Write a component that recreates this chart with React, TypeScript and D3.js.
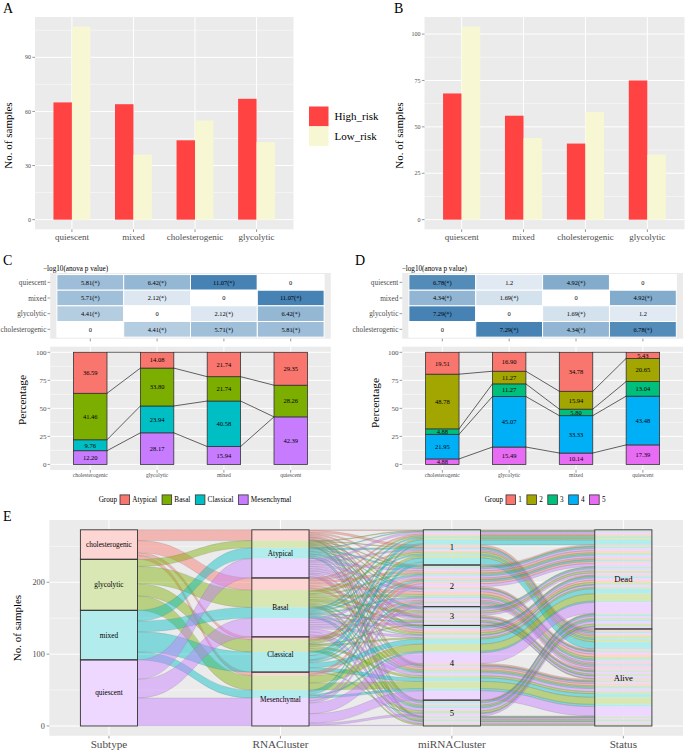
import React, { useMemo } from 'react';
import * as d3 from 'd3';

// ---------------- DATA ----------------
// Panels A / B
const riskSubtypes = ['quiescent', 'mixed', 'cholesterogenic', 'glycolytic'];
const riskGroups = ['High_risk', 'Low_risk'];
const riskColors = ['#FF4242', '#F7F7D3'];
const aHigh = [65, 64, 44, 67];
const aLow = [107, 36, 55, 43];
const aTicks = [0, 30, 60, 90];
const bHigh = [68, 56, 41, 75];
const bLow = [104, 44, 58, 35];
const bTicks = [0, 25, 50, 75, 100];

// Panels C / D
const heatCols = ['cholesterogenic', 'glycolytic', 'mixed', 'quiescent'];
const heatRows = ['quiescent', 'mixed', 'glycolytic', 'cholesterogenic'];
const cHeat = [
  [5.81, 6.42, 11.07, 0],
  [5.71, 2.12, 0, 11.07],
  [4.41, 0, 2.12, 6.42],
  [0, 4.41, 5.71, 5.81],
];
const dHeat = [
  [6.78, 1.2, 4.92, 0],
  [4.34, 1.69, 0, 4.92],
  [7.29, 0, 1.69, 1.2],
  [0, 7.29, 4.34, 6.78],
];
const rnaGroups = ['Atypical', 'Basal', 'Classical', 'Mesenchymal'];
const rnaColors = ['#F8766D', '#7CAE00', '#00BFC4', '#C77CFF'];
const cPct = [
  [36.59, 41.46, 9.76, 12.2],
  [14.08, 33.8, 23.94, 28.17],
  [21.74, 21.74, 40.58, 15.94],
  [29.35, 28.26, 0, 42.39],
];
const mirGroups = ['1', '2', '3', '4', '5'];
const mirColors = ['#F8766D', '#A3A500', '#00BF7D', '#00B0F6', '#E76BF3'];
const dPct = [
  [19.51, 48.78, 4.88, 21.95, 4.88],
  [16.9, 11.27, 11.27, 45.07, 15.49],
  [34.78, 15.94, 5.8, 33.33, 10.14],
  [5.43, 20.65, 13.04, 43.48, 17.39],
];
const pctTicks = [0, 25, 50, 75, 100];

// Panel E
const alluvialAxes = ['Subtype', 'RNACluster', 'miRNACluster', 'Status'];
const subtypeOrder = ['cholesterogenic', 'glycolytic', 'mixed', 'quiescent'];
const subtypeColors = ['#F8766D', '#7CAE00', '#00BFC4', '#C77CFF'];
const subtypeRnaCounts = [
  [15, 17, 4, 5],
  [10, 24, 17, 20],
  [15, 15, 28, 11],
  [27, 26, 0, 39],
];
const subtypeMirCounts = [
  [8, 20, 2, 9, 2],
  [12, 8, 8, 32, 11],
  [24, 11, 4, 23, 7],
  [5, 19, 12, 40, 16],
];
const statusOrder = ['Dead', 'Alive'];
const mirDead = [21, 30, 12, 53, 22];
const mirAlive = [28, 28, 14, 51, 14];
const eTicks = [0, 100, 200];

// ---------------- STYLE ----------------
const FONT = "'Liberation Serif', 'Times New Roman', 'DejaVu Serif', serif";
const BG = '#EBEBEB';
const TXT = '#4D4D4D';
const TICK = '#333333';

let _ctx: CanvasRenderingContext2D | null = null;
function tw(t: string, size: number): number {
  if (!_ctx) _ctx = document.createElement('canvas').getContext('2d');
  if (!_ctx) return t.length * size * 0.5;
  _ctx.font = `${size}px 'Liberation Serif', serif`;
  return _ctx.measureText(t).width;
}

function minorOf(ticks: number[], maxV: number) {
  const st = ticks[1] - ticks[0];
  return ticks.map((t) => t + st / 2).filter((v) => v <= maxV);
}

// ---------------- PANELS A/B ----------------
function RiskPanel(p: {
  left: number; right: number; top: number; bottom: number;
  high: number[]; low: number[]; ticks: number[];
  letter: string; letterX: number; titleX: number; titleY: number;
}) {
  const x = d3.scalePoint<string>().domain(riskSubtypes).range([p.left, p.right]).padding(0.6);
  const max = d3.max([...p.high, ...p.low]) as number;
  const y = d3.scaleLinear().domain([-0.05 * max, 1.05 * max]).range([p.bottom, p.top]);
  const bw = x.step() * 0.3;
  const minor = minorOf(p.ticks, y.domain()[1]);
  return (
    <g>
      <text x={p.letterX} y={13} fontSize={14}>{p.letter}</text>
      <rect x={p.left} y={p.top} width={p.right - p.left} height={p.bottom - p.top} fill={BG} />
      {minor.map((v) => (
        <line key={'m' + v} x1={p.left} x2={p.right} y1={y(v)} y2={y(v)} stroke="#fff" strokeWidth={0.5} />
      ))}
      {p.ticks.map((v) => (
        <line key={'t' + v} x1={p.left} x2={p.right} y1={y(v)} y2={y(v)} stroke="#fff" strokeWidth={1} />
      ))}
      {riskSubtypes.map((c) => (
        <line key={'v' + c} x1={x(c)} x2={x(c)} y1={p.top} y2={p.bottom} stroke="#fff" strokeWidth={1} />
      ))}
      {riskSubtypes.map((c, i) => (
        <g key={'b' + c}>
          <rect x={(x(c) as number) - bw} y={y(p.high[i])} width={bw} height={y(0) - y(p.high[i])} fill={riskColors[0]} />
          <rect x={x(c) as number} y={y(p.low[i])} width={bw} height={y(0) - y(p.low[i])} fill={riskColors[1]} />
        </g>
      ))}
      {p.ticks.map((v) => (
        <g key={'yl' + v}>
          <line x1={p.left - 2.7} x2={p.left} y1={y(v)} y2={y(v)} stroke={TICK} strokeWidth={0.5} />
          <text x={p.left - 4} y={y(v)} dy="0.35em" textAnchor="end" fontSize={6} fill={TXT}>{v}</text>
        </g>
      ))}
      {riskSubtypes.map((c) => (
        <g key={'xl' + c}>
          <line x1={x(c)} x2={x(c)} y1={p.bottom} y2={p.bottom + 2.7} stroke={TICK} strokeWidth={0.5} />
          <text x={x(c)} y={239.5} textAnchor="middle" fontSize={9} fill={TXT}>{c}</text>
        </g>
      ))}
      <text transform={`translate(${p.titleX},${p.titleY}) rotate(-90)`} textAnchor="middle" dy="0.35em" fontSize={11}>No. of samples</text>
    </g>
  );
}

function RiskLegend() {
  return (
    <g>
      {riskGroups.map((g, i) => (
        <g key={g}>
          <rect x={309} y={106.5 + i * 19.8} width={19.5} height={19.8} fill={riskColors[i]} />
          <text x={334.5} y={116.4 + i * 19.8} dy="0.35em" fontSize={11}>{g}</text>
        </g>
      ))}
    </g>
  );
}

// ---------------- PANELS C/D heatmaps ----------------
function HeatPanel(p: { left: number; right: number; top: number; bottom: number; values: number[][]; titleX: number; letter: string; letterX: number }) {
  const x = d3.scalePoint<string>().domain(heatCols).range([p.left, p.right]).padding(0.6);
  const y = d3.scalePoint<string>().domain(heatRows).range([p.top, p.bottom]).padding(0.6);
  const max = d3.max(p.values.flat()) as number;
  const color = d3.scaleLinear<string>().domain([0, max]).range(['#FFFFFF', '#4682B4']);
  const sx = x.step();
  const sy = y.step();
  const sig = -Math.log10(0.05);
  return (
    <g>
      <text x={p.letterX} y={265} fontSize={14}>{p.letter}</text>
      <text x={p.titleX} y={270.5} fontSize={7.2}>−log10(anova p value)</text>
      <rect x={p.left} y={p.top} width={p.right - p.left} height={p.bottom - p.top} fill={BG} />
      {heatRows.map((r, i) =>
        heatCols.map((c, j) => {
          const v = p.values[i][j];
          return (
            <g key={r + c}>
              <rect x={(x(c) as number) - sx / 2} y={(y(r) as number) - sy / 2} width={sx} height={sy} fill={color(v)} stroke="#fff" strokeWidth={1} />
              <text x={x(c)} y={y(r)} dy="0.35em" textAnchor="middle" fontSize={6.4}>{v === 0 ? '0' : String(v) + (v > sig ? '(*)' : '')}</text>
            </g>
          );
        })
      )}
      {heatRows.map((r) => (
        <g key={'yl' + r}>
          <line x1={p.left - 2.7} x2={p.left} y1={y(r)} y2={y(r)} stroke={TICK} strokeWidth={0.5} />
          <text x={p.left - 3.8} y={y(r)} dy="0.35em" textAnchor="end" fontSize={7.3} fill={TXT}>{r}</text>
        </g>
      ))}
      {heatCols.map((c) => (
        <line key={'xt' + c} x1={x(c)} x2={x(c)} y1={p.bottom} y2={p.bottom + 2.7} stroke={TICK} strokeWidth={0.5} />
      ))}
    </g>
  );
}

// ---------------- PANELS C/D stacked bars ----------------
function StackPanel(p: { left: number; right: number; top: number; bottom: number; groups: string[]; colors: string[]; pct: number[][]; titleX: number; titleY: number }) {
  const x = d3.scalePoint<string>().domain(heatCols).range([p.left, p.right]).padding(0.6);
  const y = d3.scaleLinear().domain([-5, 105]).range([p.bottom, p.top]);
  const bw = x.step() * 0.5;
  const rows = heatCols.map((c, i) => {
    const o: any = { cat: c };
    p.groups.forEach((g, j) => (o[g] = p.pct[i][j]));
    return o;
  });
  const keys = p.groups.slice().reverse();
  const series = d3.stack<any>().keys(keys)(rows);
  const minor = minorOf(pctTicks, 105);
  return (
    <g>
      <rect x={p.left} y={p.top} width={p.right - p.left} height={p.bottom - p.top} fill={BG} />
      {minor.map((v) => (
        <line key={'m' + v} x1={p.left} x2={p.right} y1={y(v)} y2={y(v)} stroke="#fff" strokeWidth={0.5} />
      ))}
      {pctTicks.map((v) => (
        <line key={'t' + v} x1={p.left} x2={p.right} y1={y(v)} y2={y(v)} stroke="#fff" strokeWidth={1} />
      ))}
      {heatCols.map((c) => (
        <line key={'v' + c} x1={x(c)} x2={x(c)} y1={p.top} y2={p.bottom} stroke="#fff" strokeWidth={1} />
      ))}
      {series.map((s) => {
        const gi = p.groups.indexOf(s.key);
        return s.map((d, i) => {
          const c = heatCols[i];
          const v = d[1] - d[0];
          if (v <= 0) return null;
          return (
            <g key={s.key + c}>
              <rect x={(x(c) as number) - bw / 2} y={y(d[1])} width={bw} height={y(d[0]) - y(d[1])} fill={p.colors[gi]} stroke={TICK} strokeWidth={0.8} />
              <text x={x(c)} y={(y(d[0]) + y(d[1])) / 2} dy="0.35em" textAnchor="middle" fontSize={6.5}>{v.toFixed(2)}</text>
            </g>
          );
        });
      })}
      {series.map((s) =>
        heatCols.slice(0, -1).map((c, i) => (
          <line key={'cn' + s.key + c} x1={(x(c) as number) + bw / 2} y1={y(s[i][1])} x2={(x(heatCols[i + 1]) as number) - bw / 2} y2={y(s[i + 1][1])} stroke="#222" strokeWidth={0.7} />
        ))
      )}
      {pctTicks.map((v) => (
        <g key={'yl' + v}>
          <line x1={p.left - 2.7} x2={p.left} y1={y(v)} y2={y(v)} stroke={TICK} strokeWidth={0.5} />
          <text x={p.left - 3.8} y={y(v)} dy="0.35em" textAnchor="end" fontSize={7} fill={TXT}>{v}</text>
        </g>
      ))}
      {heatCols.map((c) => (
        <g key={'xl' + c}>
          <line x1={x(c)} x2={x(c)} y1={p.bottom} y2={p.bottom + 2.7} stroke={TICK} strokeWidth={0.5} />
          <text x={x(c)} y={477} textAnchor="middle" fontSize={5.6} fill={TXT}>{c}</text>
        </g>
      ))}
      <text transform={`translate(${p.titleX},${p.titleY}) rotate(-90)`} textAnchor="middle" dy="0.35em" fontSize={11.4}>Percentage</text>
    </g>
  );
}

function GroupLegend(p: { keyX: number; yc: number; groups: string[]; colors: string[] }) {
  const fs = 7.2;
  const k = 9.6;
  let cx = p.keyX;
  const items: any[] = [];
  p.groups.forEach((g, i) => {
    items.push(<rect key={'r' + g} x={cx} y={p.yc - k / 2} width={k} height={k} fill={p.colors[i]} stroke={TICK} strokeWidth={0.8} />);
    cx += k + 2.7;
    items.push(<text key={'t' + g} x={cx} y={p.yc} dy="0.35em" fontSize={fs}>{g}</text>);
    cx += tw(g, fs) + 5;
  });
  return (
    <g>
      <text x={p.keyX - 3} y={p.yc} dy="0.35em" textAnchor="end" fontSize={fs}>Group</text>
      {items}
    </g>
  );
}

// ---------------- PANEL E alluvial ----------------
type Sample = { sub: number; rna: number; mir: number; st: number; idx: number };

function buildAlluvial() {
  const samples: Sample[] = [];
  subtypeOrder.forEach((_, s) => {
    const rnaList: number[] = [];
    subtypeRnaCounts[s].forEach((c, r) => {
      for (let i = 0; i < c; i++) rnaList.push(r);
    });
    const rem = subtypeMirCounts[s].slice();
    const mirList: number[] = [];
    let guard = 0;
    while (mirList.length < rnaList.length && guard++ < 1000) {
      for (let m = 0; m < rem.length; m++) if (rem[m] > 0) { mirList.push(m); rem[m]--; }
    }
    rnaList.forEach((r, i) => samples.push({ sub: s, rna: r, mir: mirList[i] ?? 0, st: 1, idx: samples.length }));
  });
  mirGroups.forEach((_, m) => {
    const members = samples.filter((d) => d.mir === m);
    const n = members.length;
    const D = Math.min(mirDead[m], n);
    members.forEach((d, j) => {
      if (Math.floor(((j + 1) * D) / n) > Math.floor((j * D) / n)) d.st = 0;
    });
  });
  const keyFns: ((d: Sample) => number[])[] = [
    (d) => [d.sub, d.rna, d.mir, d.st, d.idx],
    (d) => [d.rna, d.sub, d.mir, d.st, d.idx],
    (d) => [d.mir, d.st, d.rna, d.sub, d.idx],
    (d) => [d.st, d.mir, d.rna, d.sub, d.idx],
  ];
  const stratumOf = (d: Sample, k: number) => [d.sub, d.rna, d.mir, d.st][k];
  const cmp = (a: number[], b: number[]) => {
    for (let i = 0; i < a.length; i++) if (a[i] !== b[i]) return a[i] - b[i];
    return 0;
  };
  const orders = keyFns.map((f) => samples.slice().sort((a, b) => cmp(f(a), f(b))));
  const rank: number[][] = orders.map((o) => {
    const r: number[] = new Array(samples.length);
    o.forEach((d, i) => (r[d.idx] = i));
    return r;
  });
  const strataNames = [subtypeOrder, rnaGroups, mirGroups, statusOrder];
  const strata = orders.map((o, k) =>
    strataNames[k].map((name, si) => {
      const rs = o.filter((d) => stratumOf(d, k) === si).map((d) => rank[k][d.idx]);
      return { name, r0: d3.min(rs) as number, r1: (d3.max(rs) as number) + 1 };
    })
  );
  const lodes = orders.map((o, k) => {
    const runs: { sub: number; r0: number; r1: number }[] = [];
    o.forEach((d, i) => {
      const last = runs[runs.length - 1];
      if (last && last.sub === d.sub && stratumOf(o[i - 1], k) === stratumOf(d, k)) last.r1 = i + 1;
      else runs.push({ sub: d.sub, r0: i, r1: i + 1 });
    });
    return runs;
  });
  const ribbons: { k: number; sub: number; a0: number; a1: number; b0: number; b1: number }[] = [];
  for (let k = 0; k < 3; k++) {
    const o = orders[k];
    let cur: any = null;
    o.forEach((d, i) => {
      const rb = rank[k + 1][d.idx];
      if (cur && cur.sub === d.sub && rb === cur.b1 && stratumOf(o[i - 1], k) === stratumOf(d, k)) {
        cur.a1 = i + 1;
        cur.b1 = rb + 1;
      } else {
        if (cur) ribbons.push(cur);
        cur = { k, sub: d.sub, a0: i, a1: i + 1, b0: rb, b1: rb + 1 };
      }
    });
    if (cur) ribbons.push(cur);
  }
  return { total: samples.length, strata, lodes, ribbons };
}

function AlluvialPanel() {
  const left = 49.3, right = 683, top = 520, bottom = 735.8;
  const model = useMemo(() => buildAlluvial(), []);
  const total = model.total;
  const x = d3.scalePoint<string>().domain(alluvialAxes).range([left, right]).padding(0.348);
  const w = x.step() / 3;
  const y = d3.scaleLinear().domain([-0.05 * total, 1.05 * total]).range([bottom, top]);
  const ry = (r: number) => y(total - r);
  const pastel = subtypeColors.map((c) => d3.interpolateRgb('#ffffff', c)(0.3));
  const minor = [50, 150, 250];
  const labelSize = [7.3, 7.3, 8.7, 8.7];
  return (
    <g>
      <text x={3} y={521} fontSize={14}>E</text>
      <rect x={left} y={top} width={right - left} height={bottom - top} fill={BG} />
      {minor.map((v) => (
        <line key={'m' + v} x1={left} x2={right} y1={y(v)} y2={y(v)} stroke="#fff" strokeWidth={0.5} />
      ))}
      {eTicks.map((v) => (
        <line key={'t' + v} x1={left} x2={right} y1={y(v)} y2={y(v)} stroke="#fff" strokeWidth={1} />
      ))}
      {alluvialAxes.map((a) => (
        <line key={'v' + a} x1={x(a)} x2={x(a)} y1={top} y2={bottom} stroke="#fff" strokeWidth={1} />
      ))}
      {model.ribbons.map((rb, i) => {
        const x0 = (x(alluvialAxes[rb.k]) as number) + w / 2;
        const x1 = (x(alluvialAxes[rb.k + 1]) as number) - w / 2;
        const xm = (x0 + x1) / 2;
        const t0 = ry(rb.a0), b0 = ry(rb.a1), t1 = ry(rb.b0), b1 = ry(rb.b1);
        const path = `M${x0},${t0}C${xm},${t0} ${xm},${t1} ${x1},${t1}L${x1},${b1}C${xm},${b1} ${xm},${b0} ${x0},${b0}Z`;
        return <path key={'rb' + i} d={path} fill={subtypeColors[rb.sub]} fillOpacity={0.45} stroke="#7a7a7a" strokeOpacity={0.25} strokeWidth={0.8} />;
      })}
      {model.lodes.map((runs, k) =>
        runs.map((r, i) => (
          <rect key={'l' + k + '-' + i} x={(x(alluvialAxes[k]) as number) - w / 2} y={ry(r.r0)} width={w} height={ry(r.r1) - ry(r.r0)} fill={pastel[r.sub]} />
        ))
      )}
      {model.strata.map((ss, k) =>
        ss.map((s) => (
          <g key={'s' + k + s.name}>
            <rect x={(x(alluvialAxes[k]) as number) - w / 2} y={ry(s.r0)} width={w} height={ry(s.r1) - ry(s.r0)} fill="none" stroke={TICK} strokeWidth={0.9} />
            <text x={x(alluvialAxes[k])} y={(ry(s.r0) + ry(s.r1)) / 2} dy="0.35em" textAnchor="middle" fontSize={labelSize[k]}>{s.name}</text>
          </g>
        ))
      )}
      {eTicks.map((v) => (
        <g key={'yl' + v}>
          <line x1={left - 2.7} x2={left} y1={y(v)} y2={y(v)} stroke={TICK} strokeWidth={0.5} />
          <text x={left - 4.5} y={y(v)} dy="0.35em" textAnchor="end" fontSize={8.2} fill={TXT}>{v}</text>
        </g>
      ))}
      {alluvialAxes.map((a) => (
        <g key={'xl' + a}>
          <line x1={x(a)} x2={x(a)} y1={bottom} y2={bottom + 2.7} stroke={TICK} strokeWidth={0.5} />
          <text x={x(a)} y={747.5} textAnchor="middle" fontSize={11.2} fill={TXT}>{a}</text>
        </g>
      ))}
      <text transform={`translate(17.5,628) rotate(-90)`} textAnchor="middle" dy="0.35em" fontSize={11}>No. of samples</text>
    </g>
  );
}

export default function App() {
  return (
    <svg width={685} height={752} viewBox="0 0 685 752" style={{ position: 'absolute', left: 0, top: 0, display: 'block', background: '#fff', fontFamily: FONT }}>
      <rect width={685} height={752} fill="#fff" />
      <RiskPanel left={35} right={293.5} top={17} bottom={229.3} high={aHigh} low={aLow} ticks={aTicks} letter="A" letterX={3} titleX={8} titleY={135.5} />
      <RiskPanel left={424.5} right={684.5} top={17} bottom={229.3} high={bHigh} low={bLow} ticks={bTicks} letter="B" letterX={394} titleX={399} titleY={135.5} />
      <RiskLegend />
      <HeatPanel left={50.2} right={330.8} top={273} bottom={338.7} values={cHeat} titleX={43} letter="C" letterX={3} />
      <HeatPanel left={402.2} right={683} top={273} bottom={338.7} values={dHeat} titleX={401.7} letter="D" letterX={355} />
      <StackPanel left={50.2} right={330.8} top={346.7} bottom={470} groups={rnaGroups} colors={rnaColors} pct={cPct} titleX={22} titleY={400} />
      <StackPanel left={402.2} right={683} top={346.7} bottom={470} groups={mirGroups} colors={mirColors} pct={dPct} titleX={375} titleY={403} />
      <GroupLegend keyX={120} yc={499.7} groups={rnaGroups} colors={rnaColors} />
      <GroupLegend keyX={506} yc={499.7} groups={mirGroups} colors={mirColors} />
      <AlluvialPanel />
    </svg>
  );
}
